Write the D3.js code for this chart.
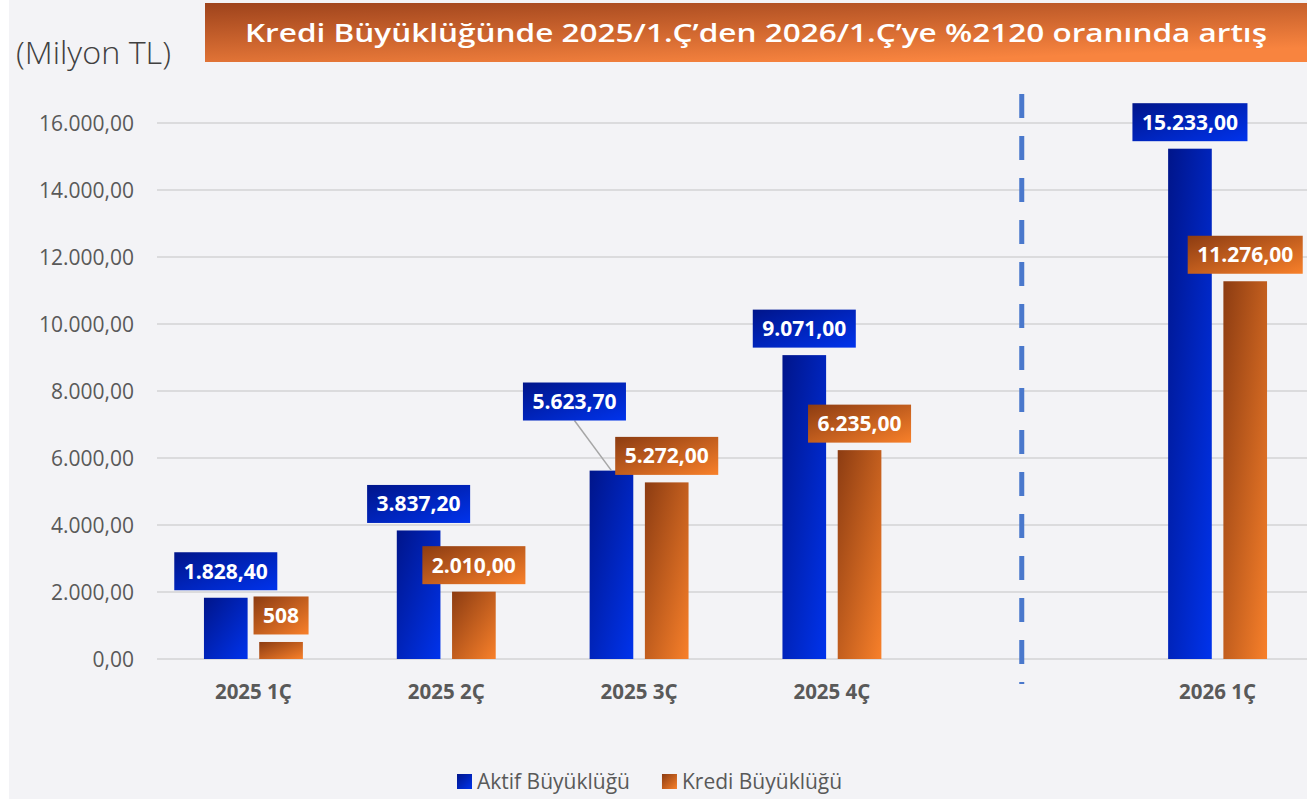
<!DOCTYPE html>
<html>
<head>
<meta charset="utf-8">
<script src="https://cdn.jsdelivr.net/npm/d3@7"></script>
<style>
  html, body { margin: 0; padding: 0; background: #ffffff; }
  svg { display: block; }
</style>
</head>
<body>
<svg id="chart" width="1307" height="799"></svg>
<script>
// ---- data ----
const categories = ["2025 1Ç", "2025 2Ç", "2025 3Ç", "2025 4Ç", "", "2026 1Ç"];
const aktifValues = [1828.40, 3837.20, 5623.70, 9071.00, null, 15233.00];
const krediValues = [508, 2010.00, 5272.00, 6235.00, null, 11276.00];
const aktifLabels = ["1.828,40", "3.837,20", "5.623,70", "9.071,00", null, "15.233,00"];
const krediLabels = ["508", "2.010,00", "5.272,00", "6.235,00", null, "11.276,00"];
const seriesNames = ["Aktif Büyüklüğü", "Kredi Büyüklüğü"];
const yTicks = [0, 2000, 4000, 6000, 8000, 10000, 12000, 14000, 16000];
const titleText = "Kredi Büyüklüğünde 2025/1.Ç’den 2026/1.Ç’ye %2120 oranında artış";
const unitText = "(Milyon TL)";
const dividerCategory = "";

// ---- layout ----
const W = 1307, H = 799;
const plot = { left: 157, right: 1314, top: 123, bottom: 659 };
const svg = d3.select("#chart");
const defs = svg.append("defs");

function grad(id, c0, c1, x2 = 1, y2 = 1) {
  const g = defs.append("linearGradient").attr("id", id)
    .attr("x1", 0).attr("y1", 0).attr("x2", x2).attr("y2", y2);
  g.append("stop").attr("offset", "0%").attr("stop-color", c0);
  g.append("stop").attr("offset", "100%").attr("stop-color", c1);
}
grad("gBlue", "#00158a", "#0033ec");
grad("gOrange", "#8c3c12", "#f8802a");
grad("gTitle", "#9e431c", "#f8843f", 0.6, 1);

const fill = ["url(#gBlue)", "url(#gOrange)"];

// background
svg.append("rect").attr("x", 9).attr("y", 0).attr("width", W - 9).attr("height", H).attr("fill", "#f3f3f6");

// scales
const x = d3.scaleBand().domain(categories).range([plot.left, plot.right]).paddingInner(0.487).paddingOuter(0.2435);
const xs = d3.scaleBand().domain([0, 1]).range([0, x.bandwidth()]).paddingInner(0.21).paddingOuter(0);
const y = d3.scaleLinear().domain([0, 16000]).range([plot.bottom, plot.top]);
const loc = d3.formatLocale({ decimal: ",", thousands: ".", grouping: [3], currency: ["", ""] });
const fmt = loc.format(",.2f");

// gridlines
svg.append("g").selectAll("line").data(yTicks).join("line")
  .attr("x1", plot.left).attr("x2", W)
  .attr("y1", d => y(d)).attr("y2", d => y(d))
  .attr("stroke", "#dbdbdd").attr("stroke-width", 2);

// y labels
svg.append("g").selectAll("text").data(yTicks).join("text")
  .attr("x", 134).attr("y", d => y(d) + 7.5)
  .attr("text-anchor", "end")
  .attr("font-family", "'Open Sans', 'Noto Sans', sans-serif")
  .attr("font-size", 21).attr("fill", "#595959")
  .text(d => fmt(d));

// divider dashed line
const divX = x(dividerCategory) + x.bandwidth() / 2 - 3;
svg.append("line")
  .attr("x1", divX).attr("x2", divX).attr("y1", 94).attr("y2", 684)
  .attr("stroke", "#4a78cc").attr("stroke-width", 5).attr("stroke-dasharray", "24,18");

// bars
const series = [aktifValues, krediValues];
const labels = [aktifLabels, krediLabels];
const labelOffsets = { "0-2": [-37, -42.6] };

const barsG = svg.append("g");
series.forEach((vals, s) => {
  barsG.selectAll(null).data(categories.map((c, i) => ({ c, v: vals[i] })).filter(d => d.v != null))
    .join("rect")
    .attr("x", d => x(d.c) + xs(s))
    .attr("y", d => y(d.v))
    .attr("width", xs.bandwidth())
    .attr("height", d => y(0) - y(d.v))
    .attr("fill", fill[s]);
});

// value labels
const labG = svg.append("g");
series.forEach((vals, s) => {
  categories.forEach((c, i) => {
    if (vals[i] == null) return;
    const cx = x(c) + xs(s) + xs.bandwidth() / 2;
    const top = y(vals[i]);
    const off = labelOffsets[s + "-" + i] || [0, 0];
    const bx = cx + off[0];
    const bBottom = top - 7.5 + off[1];
    const g = labG.append("g");
    if (off[0] || off[1]) {
      g.append("line").attr("x1", bx).attr("y1", bBottom).attr("x2", cx).attr("y2", top)
        .attr("stroke", "#a6a6a6").attr("stroke-width", 1.5);
    }
    const rect = g.append("rect");
    const t = g.append("text")
      .attr("x", bx).attr("y", bBottom - 19 + 7.5)
      .attr("text-anchor", "middle")
      .attr("font-family", "'Open Sans', 'Noto Sans', sans-serif")
      .attr("font-weight", 700).attr("font-size", 21).attr("fill", "#ffffff")
      .text(labels[s][i]);
    const tw = t.node().getComputedTextLength();
    const bw = tw + 19;
    rect.attr("x", bx - bw / 2).attr("y", bBottom - 38).attr("width", bw).attr("height", 38).attr("fill", fill[s]);
  });
});

// category labels
svg.append("g").selectAll("text").data(categories.filter(c => c !== "")).join("text")
  .attr("x", d => x(d) + x.bandwidth() / 2)
  .attr("y", 699)
  .attr("text-anchor", "middle")
  .attr("font-family", "'Open Sans', 'Noto Sans', sans-serif")
  .attr("font-weight", 700).attr("font-size", 20.5).attr("fill", "#595959")
  .text(d => d);

// title banner
svg.append("rect").attr("x", 205).attr("y", 3).attr("width", W - 205).attr("height", 59).attr("fill", "url(#gTitle)");
svg.append("text")
  .attr("x", 245).attr("y", 42)
  .attr("font-family", "'Open Sans', 'Noto Sans', sans-serif")
  .attr("font-weight", 600).attr("font-size", 25).attr("fill", "#ffffff")
  .attr("textLength", 1022).attr("lengthAdjust", "spacingAndGlyphs")
  .text(titleText);

// unit label
svg.append("text")
  .attr("x", 16).attr("y", 64)
  .attr("font-family", "'Open Sans', 'Noto Sans', sans-serif")
  .attr("font-weight", 300).attr("font-size", 31).attr("fill", "#404040")
  .attr("textLength", 155).attr("lengthAdjust", "spacingAndGlyphs")
  .text(unitText);

// legend
const lg = svg.append("g");
let lx = 457;
seriesNames.forEach((name, s) => {
  lg.append("rect").attr("x", lx).attr("y", 774).attr("width", 15).attr("height", 15).attr("fill", fill[s]);
  const t = lg.append("text").attr("x", lx + 20).attr("y", 788.5)
    .attr("font-family", "'Open Sans', 'Noto Sans', sans-serif")
    .attr("font-size", 21).attr("fill", "#595959").text(name);
  lx += 20 + t.node().getComputedTextLength() + 32;
});
</script>
</body>
</html>
